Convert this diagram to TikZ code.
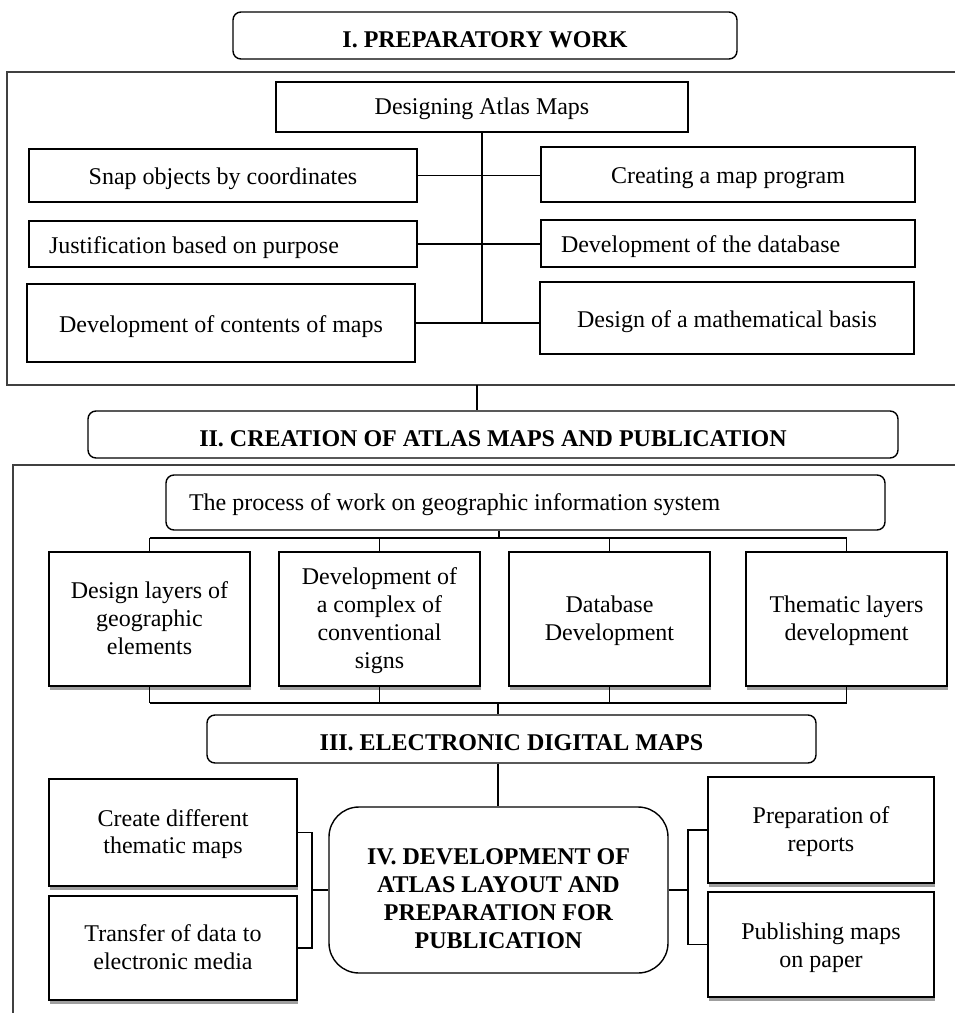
\documentclass[tikz,border=0pt]{standalone}
\usepackage{fontspec}
\setmainfont{Liberation Serif}
\usetikzlibrary{shadows}
\begin{document}
\begin{tikzpicture}[x=1pt,y=-1pt,
  every node/.style={font=\fontsize{24}{27.7}\selectfont},
  box/.style={draw=black,line width=1.4pt,fill=white,inner sep=4pt,align=center},
  sbox/.style={box,drop shadow={shadow xshift=1pt,shadow yshift=-4pt,fill=gray!75,opacity=1}},
  title/.style={box,rounded corners=8pt,font=\fontsize{24}{27.7}\selectfont\bfseries,text height=23pt,text depth=0pt},
  lone/.style={text height=18.5pt,text depth=0pt},
  ltwo/.style={text height=42.7pt,text depth=0pt},
  lthree/.style={text height=70.4pt,text depth=0pt},
  lfour/.style={text height=98.1pt,text depth=0pt},
  conn/.style={draw=black,line width=1.2pt},
  frame/.style={draw=black!75,line width=2pt}]
\useasboundingbox (0,0) rectangle (955,1013);

% ---------- I ----------
\node[title,minimum width=504pt,minimum height=47pt] (t1) at (485,35.5) {I. PREPARATORY WORK};
\draw[frame] (960,72) -- (7,72) -- (7,385) -- (960,385);

\node[box,lone,text height=15pt,minimum width=412pt,minimum height=50pt] (dam) at (482,107) {Designing Atlas Maps};
\node[box,lone,minimum width=388pt,minimum height=53pt] (snap) at (223,175.5) {Snap objects by coordinates};
\node[box,lone,minimum width=374pt,minimum height=55pt] (cmp) at (728,174.5) {Creating a map program};
\node[box,lone,minimum height=46pt,inner xsep=20pt,text width=348pt,align=flush left] (just) at (223,244) {Justification based on purpose};
\node[box,lone,minimum height=47pt,inner xsep=20pt,text width=334pt,align=flush left] (ddb) at (728,243.5) {Development of the database};
\node[box,lone,minimum width=388pt,minimum height=78pt] (dcm) at (221,323) {Development of contents of maps};
\node[box,lone,minimum width=374pt,minimum height=72pt] (dmb) at (727,318) {Design of a mathematical basis};

\draw[conn] (dam.south) -- (dam.south |- dcm.east);
\draw[conn] (snap.east) -- (snap.east -| cmp.west);
\draw[conn] (just.east) -- (just.east -| ddb.west);
\draw[conn] (dcm.east) -- (dcm.east -| dmb.west);

% ---------- II ----------
\node[title,text height=24pt,minimum width=810pt,minimum height=47pt] (t2) at (493,434.5) {II. CREATION OF ATLAS MAPS AND PUBLICATION};
\coordinate (f1) at (477,385);
\draw[conn] (f1) -- (f1 |- t2.north);
\draw[frame] (960,465) -- (13,465) -- (13,1013);

\node[box,lone,text height=16.5pt,rounded corners=8pt,minimum height=55pt,inner xsep=23pt,text width=673pt,align=flush left] (proc) at (525.5,502.5) {The process of work on geographic information system};

\node[sbox,lthree,minimum width=201pt,minimum height=134pt] (b1) at (149.5,619) {Design layers of\\geographic\\elements};
\node[sbox,lfour,minimum width=201pt,minimum height=134pt] (b2) at (379.5,619) {Development of\\a complex of\\conventional\\signs};
\node[sbox,ltwo,minimum width=201pt,minimum height=134pt] (b3) at (609.5,619) {Database\\Development};
\node[sbox,ltwo,minimum width=201pt,minimum height=134pt] (b4) at (846.5,619) {Thematic layers\\development};

\coordinate (j1) at (499,538);
\draw[conn] (j1 |- proc.south) -- (j1);
\draw[conn] (b1.north |- j1) -- (b4.north |- j1);
\foreach \b in {b1,b2,b3,b4} \draw[conn] (\b.north |- j1) -- (\b.north);

% ---------- III ----------
\node[title,text height=22pt,minimum width=609pt,minimum height=48pt] (t3) at (511.5,739) {III. ELECTRONIC DIGITAL MAPS};
\coordinate (j2) at (498,703);
\foreach \b in {b1,b2,b3,b4} \draw[conn] (\b.south) -- (\b.south |- j2);
\draw[conn] (b1.south |- j2) -- (b4.south |- j2);
\draw[conn] (j2) -- (j2 |- t3.north);

% ---------- IV ----------
\node[box,rounded corners=30pt,minimum width=339pt,minimum height=166pt,font=\fontsize{24}{27.7}\selectfont\bfseries,text height=116pt,text depth=0pt] (iv) at (498.5,890) {IV. DEVELOPMENT OF\\ATLAS LAYOUT AND\\PREPARATION FOR\\PUBLICATION};
\coordinate (j3) at (498,780);
\draw[conn] (j3 |- t3.south) -- (j3 |- iv.north);

\node[sbox,ltwo,minimum width=248pt,minimum height=107pt] (cdm) at (173,832.5) {Create different\\thematic maps};
\node[sbox,ltwo,minimum width=248pt,minimum height=104pt] (tdm) at (173,948) {Transfer of data to\\electronic media};
\node[sbox,ltwo,minimum width=226pt,minimum height=106pt] (prep) at (821,830) {Preparation of\\reports};
\node[sbox,ltwo,text height=46pt,minimum width=226pt,minimum height=105pt] (pub) at (821,944.5) {Publishing maps\\on paper};

\coordinate (lb) at (312,890);
\draw[conn] (cdm.east) -- (cdm.east -| lb) -- (tdm.east -| lb) -- (tdm.east);
\draw[conn] (iv.west) -- (iv.west -| lb);
\coordinate (rb) at (688,890);
\draw[conn] (prep.west) -- (prep.west -| rb) -- (pub.west -| rb) -- (pub.west);
\draw[conn] (iv.east) -- (iv.east -| rb);
\end{tikzpicture}
\end{document}
